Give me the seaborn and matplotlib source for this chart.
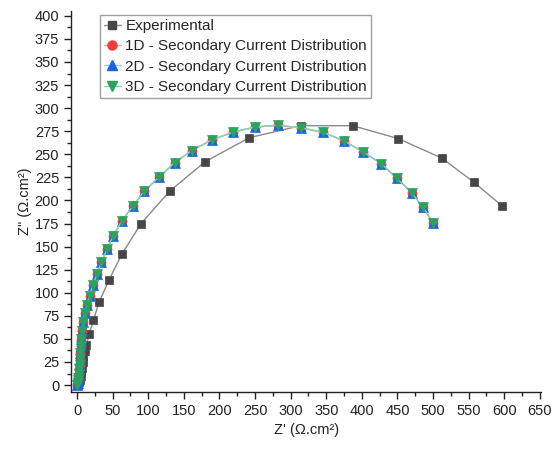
import matplotlib
matplotlib.use("Agg")
import matplotlib.pyplot as plt
from matplotlib.lines import Line2D
from matplotlib.ticker import MultipleLocator
import seaborn as sns
import pandas as pd

# Experimental data
exp_zr = [2, 3, 4, 5, 6, 7, 8, 9, 11, 13, 17, 23, 31, 45, 63, 90, 130, 180, 242, 314, 387, 451, 512, 557, 597]
exp_zi = [0, 3, 6, 10, 14, 19, 25, 31, 37, 43, 55, 70, 90, 114, 142, 175, 210, 242, 268, 281, 281, 267, 246, 220, 194]

# Simulated data (1D, 2D, 3D nearly identical)
sim_zr = [0.5, 1, 1.5, 2, 2.5, 3, 3.5, 4, 4.7, 5.3, 6, 7, 8.5, 10.5, 13.5, 17.5, 22, 28, 34, 42, 51, 63,
          78.5, 94, 115, 137, 161, 189, 219, 250, 282, 314, 345, 375, 402, 427, 449, 470, 486, 500]
sim_zi = [0, 2, 5, 8, 12, 17, 22, 28, 35, 42, 50, 59, 68, 78, 87, 97, 108, 120, 133, 147, 162, 178,
          194, 210, 225, 241, 254, 265.5, 274, 279.5, 281.5, 278.6, 274, 264.5, 252.5, 240, 224, 208.5, 192.5, 176]

labels = ["Experimental", "1D - Secondary Current Distribution",
          "2D - Secondary Current Distribution", "3D - Secondary Current Distribution"]

sns.set_style("ticks")
plt.rcParams['font.family'] = ['Liberation Sans', 'DejaVu Sans']

fig = plt.figure(figsize=(5.52, 4.49), dpi=100)
ax = fig.add_axes([0.1286, 0.127, 0.852, 0.848])

styles = [
    dict(label=labels[0], line="#8a8a8a", marker="s", mfc="#464646", ms=6.2),
    dict(label=labels[1], line="#f4a0a0", marker="o", mfc="#f03c3c", ms=6.5),
    dict(label=labels[2], line="#a8c8ea", marker="^", mfc="#1a64e0", ms=7),
    dict(label=labels[3], line="#88d4a8", marker="v", mfc="#2fa060", ms=7.5),
]
datasets = [(exp_zr, exp_zi), (sim_zr, sim_zi), (sim_zr, sim_zi), (sim_zr, sim_zi)]

handles = []
for (xs, ys), st in zip(datasets, styles):
    df = pd.DataFrame({"x": xs, "y": ys})
    sns.lineplot(data=df, x="x", y="y", ax=ax, estimator=None, sort=False,
                 color=st["line"], linewidth=1.0, marker=st["marker"],
                 markerfacecolor=st["mfc"], markeredgecolor=st["mfc"],
                 markersize=st["ms"], markeredgewidth=0.5, legend=False)
    handles.append(Line2D([0], [0], color=st["line"], lw=1.0, marker=st["marker"],
                          markerfacecolor=st["mfc"], markeredgecolor=st["mfc"],
                          markersize=st["ms"]))

ax.set_xlim(-8.5, 652)
ax.set_ylim(-7.5, 405)
ax.xaxis.set_major_locator(MultipleLocator(50))
ax.xaxis.set_minor_locator(MultipleLocator(25))
ax.yaxis.set_major_locator(MultipleLocator(25))
ax.yaxis.set_minor_locator(MultipleLocator(12.5))
ax.tick_params(which="major", direction="out", length=5, width=1, labelsize=10.5, colors="#222222")
ax.tick_params(which="minor", direction="out", length=3, width=1, colors="#222222")
for s in ["left", "bottom"]:
    ax.spines[s].set_color("#222222")
    ax.spines[s].set_linewidth(1)
sns.despine(ax=ax)

ax.set_xlabel("Z' (Ω.cm²)", fontsize=10.5, color="#222222")
ax.set_ylabel('Z" (Ω.cm²)', fontsize=10.5, color="#222222", labelpad=2)

leg = ax.legend(handles, labels, loc="upper left", bbox_to_anchor=(0.062, 0.99),
                fontsize=11, frameon=True, fancybox=False, edgecolor="#888888",
                handlelength=1.1, handletextpad=0.3, borderpad=0.25, labelspacing=0.42,
                borderaxespad=0.0)
leg.get_frame().set_linewidth(1.0)

fig.savefig("out.png", dpi=100)
